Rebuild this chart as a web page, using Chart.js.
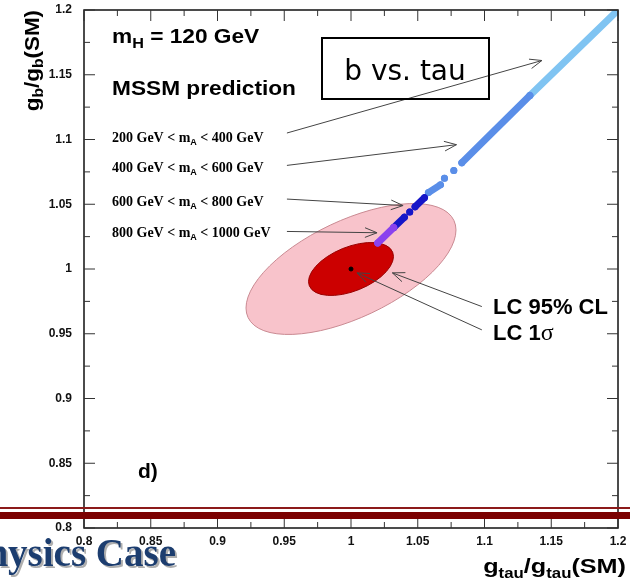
<!DOCTYPE html>
<html>
<head>
<meta charset="utf-8">
<script src="https://cdn.jsdelivr.net/npm/chart.js@4.4.0/dist/chart.umd.min.js"></script>
<style>
  html, body { margin: 0; padding: 0; background: #fff; }
  canvas { display: block; }
</style>
</head>
<body>
<canvas id="coupling" width="630" height="579"></canvas>
<script>
// axis ticks
const xTickValues = [0.8, 0.85, 0.9, 0.95, 1, 1.05, 1.1, 1.15, 1.2];
const xTickLabels = ['0.8', '0.85', '0.9', '0.95', '1', '1.05', '1.1', '1.15', '1.2'];
const yTickValues = [0.8, 0.85, 0.9, 0.95, 1, 1.05, 1.1, 1.15, 1.2];
const yTickLabels = ['0.8', '0.85', '0.9', '0.95', '1', '1.05', '1.1', '1.15', '1.2'];

// MSSM prediction per m_A band (g_tau, g_b), null = gap
const band200x = [1.134, 1.199];
const band200y = [1.134, 1.199];
const band400x = [1.058, 1.067, null, 1.070, null, 1.077, null, 1.083, 1.134];
const band400y = [1.059, 1.065, null, 1.070, null, 1.076, null, 1.082, 1.134];
const band600x = [1.032, 1.040, null, 1.044, null, 1.048, 1.055];
const band600y = [1.032, 1.040, null, 1.044, null, 1.048, 1.055];
const band800x = [1.020, 1.032];
const band800y = [1.020, 1.032];

// LC measurement: central value and error ellipses (semi-axis vectors)
const lcCentre = [1.0, 1.0];
const lc95Major = [0.0771, 0.0375];
const lc95Minor = [-0.0155, 0.0339];
const lc1sMajor = [0.0312, 0.0130];
const lc1sMinor = [-0.0062, 0.0158];

// annotation arrows, data coords
const arrows = [
  [[0.952, 1.105], [1.143, 1.161]],
  [[0.952, 1.080], [1.079, 1.096]],
  [[0.952, 1.054], [1.039, 1.049]],
  [[0.952, 1.029], [1.0195, 1.028]],
  [[1.098, 0.971], [1.031, 0.997]],
  [[1.098, 0.953], [1.0045, 0.997]]
];

const SANS = 'Liberation Sans';
const SERIF = 'Liberation Serif';

function toPx(chart, p) {
  return [chart.scales.x.getPixelForValue(p[0]), chart.scales.y.getPixelForValue(p[1])];
}

function drawEllipse(chart, c, maj, min, fill, stroke) {
  const ctx = chart.ctx;
  const [cx, cy] = toPx(chart, c);
  const [ax, ay] = toPx(chart, [c[0] + maj[0], c[1] + maj[1]]);
  const [bx, by] = toPx(chart, [c[0] + min[0], c[1] + min[1]]);
  ctx.save();
  ctx.beginPath();
  ctx.save();
  ctx.transform(ax - cx, ay - cy, bx - cx, by - cy, cx, cy);
  ctx.arc(0, 0, 1, 0, Math.PI * 2);
  ctx.restore();
  ctx.fillStyle = fill;
  ctx.fill();
  ctx.lineWidth = 1;
  ctx.strokeStyle = stroke;
  ctx.stroke();
  ctx.restore();
}

// parts: {t, size, dy, family, weight}
function drawRich(ctx, parts, x, y, o) {
  o = o || {};
  ctx.save();
  ctx.translate(x, y);
  if (o.rot) ctx.rotate(o.rot);
  ctx.scale(o.sx || 1, 1);
  ctx.fillStyle = o.color || '#000';
  ctx.textBaseline = 'alphabetic';
  ctx.textAlign = 'left';
  const fontOf = p => (p.weight || 'bold') + ' ' + p.size + 'px "' + (p.family || SANS) + '"';
  let w = 0;
  parts.forEach(p => { ctx.font = fontOf(p); w += ctx.measureText(p.t).width; });
  let cx = o.align === 'right' ? -w : (o.align === 'center' ? -w / 2 : 0);
  parts.forEach(p => {
    ctx.font = fontOf(p);
    if (o.shadow) {
      ctx.fillStyle = o.shadow;
      ctx.fillText(p.t, cx + 2, (p.dy || 0) + 2);
      ctx.fillStyle = o.color || '#000';
    }
    ctx.fillText(p.t, cx, p.dy || 0);
    cx += ctx.measureText(p.t).width;
  });
  ctx.restore();
}

function massLabel(lo, hi) {
  return [
    { t: lo + ' GeV < m', size: 14, family: SERIF },
    { t: 'A', size: 9, dy: 3 },
    { t: ' < ' + hi + ' GeV', size: 14, family: SERIF }
  ];
}

const decor = {
  id: 'decor',
  beforeDatasetsDraw(chart) {
    drawEllipse(chart, lcCentre, lc95Major, lc95Minor, '#f8c3cb', '#c98a92');
    drawEllipse(chart, lcCentre, lc1sMajor, lc1sMinor, '#cc0000', '#990000');
  },
  afterDatasetsDraw(chart) {
    const ctx = chart.ctx;
    const a = chart.chartArea;

    // arrows
    ctx.save();
    ctx.strokeStyle = '#444';
    ctx.lineWidth = 1;
    arrows.forEach(([f, t]) => {
      const [x1, y1] = toPx(chart, f);
      const [x2, y2] = toPx(chart, t);
      const ang = Math.atan2(y2 - y1, x2 - x1);
      ctx.beginPath();
      ctx.moveTo(x1, y1);
      ctx.lineTo(x2, y2);
      [-0.38, 0.38].forEach(d => {
        ctx.moveTo(x2, y2);
        ctx.lineTo(x2 - 13 * Math.cos(ang + d), y2 - 13 * Math.sin(ang + d));
      });
      ctx.stroke();
    });
    ctx.restore();

    // texts
    drawRich(ctx, [{ t: 'm', size: 21 }, { t: 'H', size: 15, dy: 5 }, { t: ' = 120 GeV', size: 21 }], 112, 43, { sx: 1.08 });
    drawRich(ctx, [{ t: 'MSSM prediction', size: 21 }], 112, 95, { sx: 1.08 });
    drawRich(ctx, massLabel(200, 400), 112, 142);
    drawRich(ctx, massLabel(400, 600), 112, 172);
    drawRich(ctx, massLabel(600, 800), 112, 206);
    drawRich(ctx, massLabel(800, 1000), 112, 237);
    drawRich(ctx, [{ t: 'LC 95% CL', size: 22 }], 493, 314);
    drawRich(ctx, [{ t: 'LC 1', size: 22 }, { t: 'σ', size: 24, family: SERIF, weight: 'normal' }], 493, 340);
    drawRich(ctx, [{ t: 'd)', size: 21 }], 138, 478);

    // b vs. tau box (arrow shows through it)
    ctx.save();
    ctx.lineWidth = 2;
    ctx.strokeStyle = '#000';
    ctx.strokeRect(322, 38, 167, 61);
    ctx.restore();
    drawRich(ctx, [{ t: 'b vs. tau', size: 28, family: 'DejaVu Sans', weight: 'normal' }], 405, 80, { align: 'center' });

    // axis titles
    drawRich(ctx, [
      { t: 'g', size: 20 }, { t: 'b', size: 14, dy: 4 }, { t: '/g', size: 20 },
      { t: 'b', size: 14, dy: 4 }, { t: '(SM)', size: 20 }
    ], 39, 10, { rot: -Math.PI / 2, align: 'right', sx: 1.12 });
    drawRich(ctx, [
      { t: 'g', size: 21 }, { t: 'tau', size: 14, dy: 5 }, { t: '/g', size: 21 },
      { t: 'tau', size: 14, dy: 5 }, { t: '(SM)', size: 21 }
    ], 626, 573, { align: 'right', sx: 1.2 });

    // frame + inward ticks on all four sides
    ctx.save();
    ctx.strokeStyle = '#111';
    ctx.lineWidth = 1.5;
    ctx.strokeRect(a.left, a.top, a.right - a.left, a.bottom - a.top);
    ctx.lineWidth = 1;
    ctx.strokeStyle = '#333';
    ctx.beginPath();
    const tickSet = (vals) => {
      const out = [];
      vals.forEach((v, i) => {
        out.push([v, 11]);
        if (i < vals.length - 1) out.push([(v + vals[i + 1]) / 2, 6]);
      });
      return out;
    };
    tickSet(xTickValues).forEach(([v, len]) => {
      const p = chart.scales.x.getPixelForValue(v);
      ctx.moveTo(p, a.bottom); ctx.lineTo(p, a.bottom - len);
      ctx.moveTo(p, a.top); ctx.lineTo(p, a.top + len);
    });
    tickSet(yTickValues).forEach(([v, len]) => {
      const p = chart.scales.y.getPixelForValue(v);
      ctx.moveTo(a.left, p); ctx.lineTo(a.left + len, p);
      ctx.moveTo(a.right, p); ctx.lineTo(a.right - len, p);
    });
    ctx.stroke();
    ctx.restore();
  },
  afterDraw(chart) {
    const ctx = chart.ctx;
    // slide decoration
    ctx.save();
    ctx.fillStyle = '#8c1a1a';
    ctx.fillRect(0, 507, 630, 2);
    ctx.fillStyle = '#7b0000';
    ctx.fillRect(0, 512, 630, 7);
    ctx.restore();
    drawRich(ctx, [{ t: 'Physics Case', size: 39, family: SERIF }], 176, 566,
      { align: 'right', color: '#1c3d6f', shadow: 'rgba(120,120,120,0.6)' });
  }
};

const bandDataset = (xs, ys, color) => ({
  data: xs.map((x, i) => ({ x: x, y: ys[i] })),
  showLine: true,
  borderColor: color,
  backgroundColor: color,
  borderWidth: 7,
  borderCapStyle: 'round',
  pointRadius: 3.5,
  pointBorderWidth: 0,
  pointHoverRadius: 3.5,
  spanGaps: false
});

const couplingChart = new Chart(document.getElementById('coupling').getContext('2d'), {
  type: 'scatter',
  data: {
    datasets: [
      bandDataset(band800x, band800y, '#8a42ee'),
      bandDataset(band600x, band600y, '#1616c8'),
      bandDataset(band400x, band400y, '#5a8ee8'),
      bandDataset(band200x, band200y, '#80c4f2'),
      {
        data: [{ x: lcCentre[0], y: lcCentre[1] }],
        pointRadius: 2,
        backgroundColor: '#000',
        borderColor: '#000'
      }
    ]
  },
  options: {
    responsive: false,
    devicePixelRatio: 1,
    animation: false,
    events: [],
    layout: { padding: { top: 10, right: 12, left: 0, bottom: 0 } },
    plugins: { legend: { display: false }, tooltip: { enabled: false } },
    scales: {
      x: {
        type: 'linear',
        min: 0.8,
        max: 1.2,
        afterBuildTicks: s => { s.ticks = xTickValues.map(v => ({ value: v })); },
        afterFit: s => { s.height = 51; s.paddingLeft = 0; s.paddingRight = 0; },
        grid: { display: false, drawTicks: false },
        border: { display: false },
        ticks: {
          callback: (v, i) => xTickLabels[i],
          font: { family: SANS, weight: 'bold', size: 12 },
          color: '#111',
          padding: 6,
          maxRotation: 0,
          autoSkip: false
        }
      },
      y: {
        type: 'linear',
        min: 0.8,
        max: 1.2,
        afterBuildTicks: s => { s.ticks = yTickValues.map(v => ({ value: v })); },
        afterFit: s => { s.width = 84; s.paddingTop = 0; s.paddingBottom = 0; },
        grid: { display: false, drawTicks: false },
        border: { display: false },
        ticks: {
          callback: (v, i) => yTickLabels[i],
          font: { family: SANS, weight: 'bold', size: 12 },
          color: '#111',
          padding: 12,
          autoSkip: false
        }
      }
    }
  },
  plugins: [decor]
});
</script>
</body>
</html>
